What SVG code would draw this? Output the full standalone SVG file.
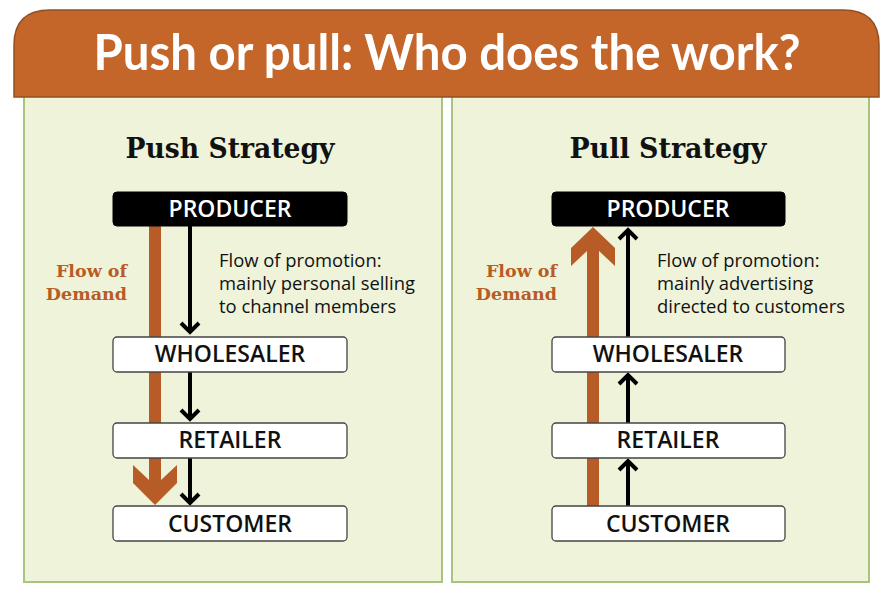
<svg xmlns="http://www.w3.org/2000/svg" width="891" height="600" viewBox="0 0 891 600">
<style>
.panel{fill:#EEF3DA;stroke:#A9C47F;stroke-width:2}
.hdr{font-family:Lato,"Open Sans",sans-serif;font-weight:700;font-size:50px;fill:#fff}
.strat{font-family:"DejaVu Serif","Liberation Serif",serif;font-weight:bold;font-size:27px;fill:#111}
.dem{font-family:"DejaVu Serif","Liberation Serif",serif;font-weight:bold;font-size:17.5px;fill:#B85C27;text-anchor:end}
.prom{font-family:"Open Sans","Noto Sans",sans-serif;font-size:18.4px;fill:#111}
.blk{fill:#000;stroke:#000;stroke-width:1}
.wht{fill:#fff;stroke:#444;stroke-width:1.3}
.lbl{font-family:"Open Sans","Noto Sans",sans-serif;font-weight:600;font-size:23px;text-anchor:middle;fill:#111}
.lblw{fill:#fff}
.ln{stroke:#000;stroke-width:4;fill:none}
.hd{stroke:#000;stroke-width:4;fill:none;stroke-linejoin:miter;stroke-miterlimit:10}
.dmd{fill:#B85C27}
</style>
<rect width="891" height="600" fill="#fff"/>
<rect class="panel" x="24" y="90" width="418" height="492"/>
<rect class="panel" x="452" y="90" width="417" height="492"/>
<path d="M14,97 L14,45 Q14,10 50,10 L843,10 Q879,10 879,45 L879,97 Z" fill="#C4652A" stroke="#93501F" stroke-width="1.5"/>
<text class="hdr" x="447" y="70" text-anchor="middle" textLength="707" lengthAdjust="spacingAndGlyphs">Push or pull: Who does the work?</text>

<text class="strat" x="230" y="158" text-anchor="middle" textLength="209" lengthAdjust="spacingAndGlyphs">Push Strategy</text>
<text class="strat" x="668" y="158" text-anchor="middle" textLength="197" lengthAdjust="spacingAndGlyphs">Pull Strategy</text>

<g id="connectors">
  <polygon class="dmd" points="149,226 161,226 161,480 177,465 177,483 155,505 133,483 133,465 149,480"/>
  <line class="ln" x1="190" y1="226" x2="190" y2="332"/>
  <polyline class="hd" points="181,323 190,332 199,323"/>
  <line class="ln" x1="190" y1="372" x2="190" y2="419"/>
  <polyline class="hd" points="181,410 190,419 199,410"/>
  <line class="ln" x1="190" y1="458" x2="190" y2="503"/>
  <polyline class="hd" points="181,494 190,503 199,494"/>

  <polygon class="dmd" points="587,506 587,251 571,266 571,248 593,227 615,248 615,266 599,251 599,506"/>
  <line class="ln" x1="628" y1="337" x2="628" y2="230"/>
  <polyline class="hd" points="619,239 628,230 637,239"/>
  <line class="ln" x1="628" y1="423" x2="628" y2="375"/>
  <polyline class="hd" points="619,384 628,375 637,384"/>
  <line class="ln" x1="628" y1="506" x2="628" y2="461"/>
  <polyline class="hd" points="619,470 628,461 637,470"/>
</g>

<g id="push-producer"><rect class="blk" x="113" y="192" width="234" height="34" rx="4"/><text class="lbl lblw" x="230" y="217">PRODUCER</text></g>
<g id="push-wholesaler"><rect class="wht" x="113" y="337" width="234" height="35" rx="4"/><text class="lbl" x="230" y="362">WHOLESALER</text></g>
<g id="push-retailer"><rect class="wht" x="113" y="423" width="234" height="35" rx="4"/><text class="lbl" x="230" y="448">RETAILER</text></g>
<g id="push-customer"><rect class="wht" x="113" y="506" width="234" height="35" rx="4"/><text class="lbl" x="230" y="532">CUSTOMER</text></g>

<g id="pull-producer"><rect class="blk" x="552" y="192" width="233" height="34" rx="4"/><text class="lbl lblw" x="668" y="217">PRODUCER</text></g>
<g id="pull-wholesaler"><rect class="wht" x="552" y="337" width="233" height="35" rx="4"/><text class="lbl" x="668" y="362">WHOLESALER</text></g>
<g id="pull-retailer"><rect class="wht" x="552" y="423" width="233" height="35" rx="4"/><text class="lbl" x="668" y="448">RETAILER</text></g>
<g id="pull-customer"><rect class="wht" x="552" y="506" width="233" height="35" rx="4"/><text class="lbl" x="668" y="532">CUSTOMER</text></g>

<text class="dem" x="127" y="277">Flow of</text>
<text class="dem" x="127" y="300">Demand</text>
<text class="dem" x="557" y="277">Flow of</text>
<text class="dem" x="557" y="300">Demand</text>

<text class="prom" x="219" y="267">Flow of promotion:</text>
<text class="prom" x="219" y="290">mainly personal selling</text>
<text class="prom" x="219" y="313">to channel members</text>
<text class="prom" x="657" y="267">Flow of promotion:</text>
<text class="prom" x="657" y="290">mainly advertising</text>
<text class="prom" x="657" y="313">directed to customers</text>
</svg>
